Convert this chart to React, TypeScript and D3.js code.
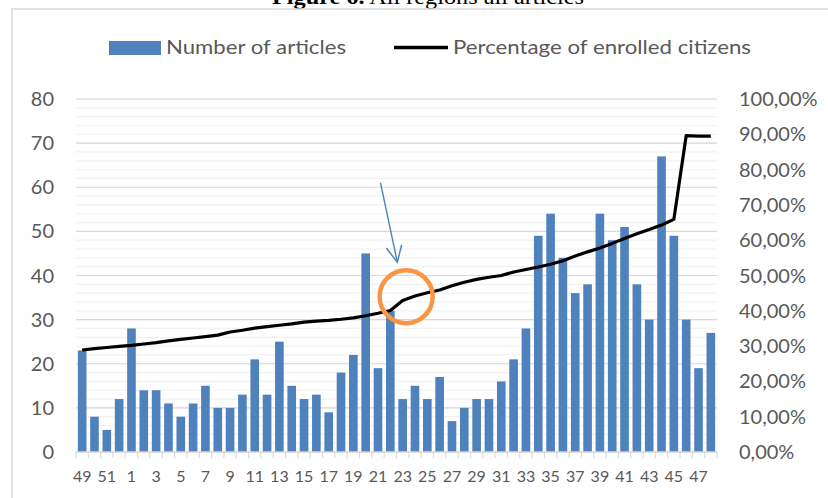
import React from "react";
import * as d3 from "d3";

const WIDTH = 828;
const HEIGHT = 498;
const MARGIN = { top: 99, right: 111, bottom: 46, left: 76 };

// region codes, in the order of the chart (sorted by enrolment share)
const regions = [
  "49", "50", "51", "52", "1", "2", "3", "4", "5", "6", "7", "8", "9", "10",
  "11", "12", "13", "14", "15", "16", "17", "18", "19", "20", "21", "22", "23",
  "24", "25", "26", "27", "28", "29", "30", "31", "32", "33", "34", "35", "36",
  "37", "38", "39", "40", "41", "42", "43", "44", "45", "46", "47", "48",
];

const articles = [
  23, 8, 5, 12, 28, 14, 14, 11, 8, 11, 15, 10, 10, 13, 21, 13, 25, 15, 12, 13,
  9, 18, 22, 45, 19, 32, 12, 15, 12, 17, 7, 10, 12, 12, 16, 21, 28, 49, 54, 44,
  36, 38, 54, 48, 51, 38, 30, 67, 49, 30, 19, 27,
];

const enrolled = [
  0.289, 0.293, 0.296, 0.299, 0.302, 0.306, 0.31, 0.315, 0.319, 0.323, 0.327,
  0.331, 0.34, 0.345, 0.351, 0.355, 0.359, 0.363, 0.368, 0.371, 0.373, 0.376,
  0.38, 0.386, 0.393, 0.401, 0.429, 0.442, 0.451, 0.459, 0.471, 0.481, 0.489,
  0.495, 0.5, 0.51, 0.517, 0.524, 0.532, 0.542, 0.555, 0.567, 0.578, 0.591,
  0.605, 0.618, 0.63, 0.643, 0.659, 0.896, 0.895, 0.895,
];

const leftTicks = [0, 10, 20, 30, 40, 50, 60, 70, 80];
const minorTicks = d3.range(0, 81, 2);
const rightTicks = [0, 0.1, 0.2, 0.3, 0.4, 0.5, 0.6, 0.7, 0.8, 0.9, 1.0];

const BAR_COLOR = "#4F81BD";
const TEXT_COLOR = "#595959";
const FONT = "Lato, 'Open Sans', sans-serif";

const fmtPct = (v: number) => (v * 100).toFixed(2).replace(".", ",") + "%";

export default function App() {
  const x0 = MARGIN.left;
  const x1 = WIDTH - MARGIN.right; // 717
  const yBottom = HEIGHT - MARGIN.bottom; // 452
  const yTop = MARGIN.top;

  const xScale = d3
    .scaleBand<string>()
    .domain(regions)
    .range([x0, x1])
    .paddingInner(0.3)
    .paddingOuter(0.15);

  const yLeft = d3.scaleLinear().domain([0, 80]).range([yBottom, yTop]);
  const yRight = d3.scaleLinear().domain([0, 1]).range([yBottom, yTop]);

  const step = xScale.step();
  const center = (r: string) => (xScale(r) as number) + xScale.bandwidth() / 2;

  const line = d3
    .line<number>()
    .x((_, i) => center(regions[i]))
    .y((d) => yRight(d))
    .curve(d3.curveLinear);

  // annotation anchored to region 23 on the percentage scale
  const cx = center("23") + 3.5;
  const cy = yRight(0.44);
  const arrowStart: [number, number] = [center("21") + 2.5, yLeft(61)];
  const arrowTip: [number, number] = [center("22") + 7, yLeft(43)];
  const ang = Math.atan2(arrowTip[1] - arrowStart[1], arrowTip[0] - arrowStart[0]);
  const headLen = 18;
  const headA = 0.45;
  const h1 = [arrowTip[0] - headLen * Math.cos(ang - headA), arrowTip[1] - headLen * Math.sin(ang - headA)];
  const h2 = [arrowTip[0] - headLen * Math.cos(ang + headA), arrowTip[1] - headLen * Math.sin(ang + headA)];

  return (
    <svg
      width={WIDTH}
      height={HEIGHT}
      style={{ position: "absolute", left: 0, top: 0, background: "#fff" }}
    >
      <rect x={0} y={0} width={WIDTH} height={HEIGHT} fill="#fff" />
      {/* title, cut at the top of the frame as in the source */}
      <text
        x={272}
        y={4}
        fontFamily="'Liberation Serif', 'Times New Roman', serif"
        fontSize={20}
        fill="#000"
        textLength={312}
        lengthAdjust="spacingAndGlyphs"
      >
        <tspan fontWeight="bold">Figure 6.</tspan> All regions all articles
      </text>
      <rect x={12} y={9} width={WIDTH} height={HEIGHT} fill="none" stroke="#D9D9D9" strokeWidth={1.5} />

      {/* legend */}
      <rect x={109} y={41} width={52} height={14} fill={BAR_COLOR} />
      <text x={166} y={54} fontFamily={FONT} fontSize={20} fill={TEXT_COLOR} textLength={180} lengthAdjust="spacingAndGlyphs">
        Number of articles
      </text>
      <line x1={394} x2={448} y1={47.5} y2={47.5} stroke="#000" strokeWidth={3.5} />
      <text x={453} y={54} fontFamily={FONT} fontSize={20} fill={TEXT_COLOR} textLength={298} lengthAdjust="spacingAndGlyphs">
        Percentage of enrolled citizens
      </text>

      {/* gridlines */}
      {minorTicks.map((t) => (
        <line key={"m" + t} x1={x0} x2={x1} y1={yLeft(t)} y2={yLeft(t)} stroke="#F2F2F2" strokeWidth={1.2} />
      ))}
      {leftTicks.map((t) => (
        <line key={"g" + t} x1={x0} x2={x1} y1={yLeft(t)} y2={yLeft(t)} stroke="#D9D9D9" strokeWidth={1.2} />
      ))}

      {/* bars */}
      {articles.map((v, i) => (
        <rect
          key={regions[i]}
          x={xScale(regions[i])}
          y={yLeft(v)}
          width={xScale.bandwidth()}
          height={yBottom - yLeft(v)}
          fill={BAR_COLOR}
        />
      ))}

      {/* x axis */}
      <line x1={x0} x2={x1} y1={yBottom} y2={yBottom} stroke="#D9D9D9" strokeWidth={1.5} />
      {regions.concat(["end"]).map((r, i) => {
        const xx = x0 + i * step;
        return <line key={"t" + i} x1={xx} x2={xx} y1={yBottom} y2={yBottom + 6} stroke="#D9D9D9" strokeWidth={1.2} />;
      })}
      {regions.map((r, i) =>
        i % 2 === 0 ? (
          <text key={"xl" + r} x={center(r)} y={481.5} textAnchor="middle" fontFamily={FONT} fontSize={16} fill={TEXT_COLOR}>
            {r}
          </text>
        ) : null
      )}

      {/* left axis labels */}
      {leftTicks.map((t) => (
        <text key={"yl" + t} x={54} y={yLeft(t)} dy="0.35em" textAnchor="end" fontFamily={FONT} fontSize={20} fill={TEXT_COLOR}>
          {t}
        </text>
      ))}
      {/* right axis labels */}
      {rightTicks.map((t) => (
        <text key={"yr" + t} x={739} y={yRight(t)} dy="0.35em" textAnchor="start" fontFamily={FONT} fontSize={20} fill={TEXT_COLOR}>
          {fmtPct(t)}
        </text>
      ))}

      {/* percentage line */}
      <path d={line(enrolled) || ""} fill="none" stroke="#000" strokeWidth={3.2} strokeLinejoin="round" />

      {/* annotation */}
      <line x1={arrowStart[0]} y1={arrowStart[1]} x2={arrowTip[0]} y2={arrowTip[1]} stroke={BAR_COLOR} strokeWidth={1.4} />
      <polyline
        points={`${h1[0]},${h1[1]} ${arrowTip[0]},${arrowTip[1]} ${h2[0]},${h2[1]}`}
        fill="none"
        stroke={BAR_COLOR}
        strokeWidth={1.4}
      />
      <circle cx={cx} cy={cy} r={26.5} fill="none" stroke="#F79646" strokeWidth={4.5} />
    </svg>
  );
}
